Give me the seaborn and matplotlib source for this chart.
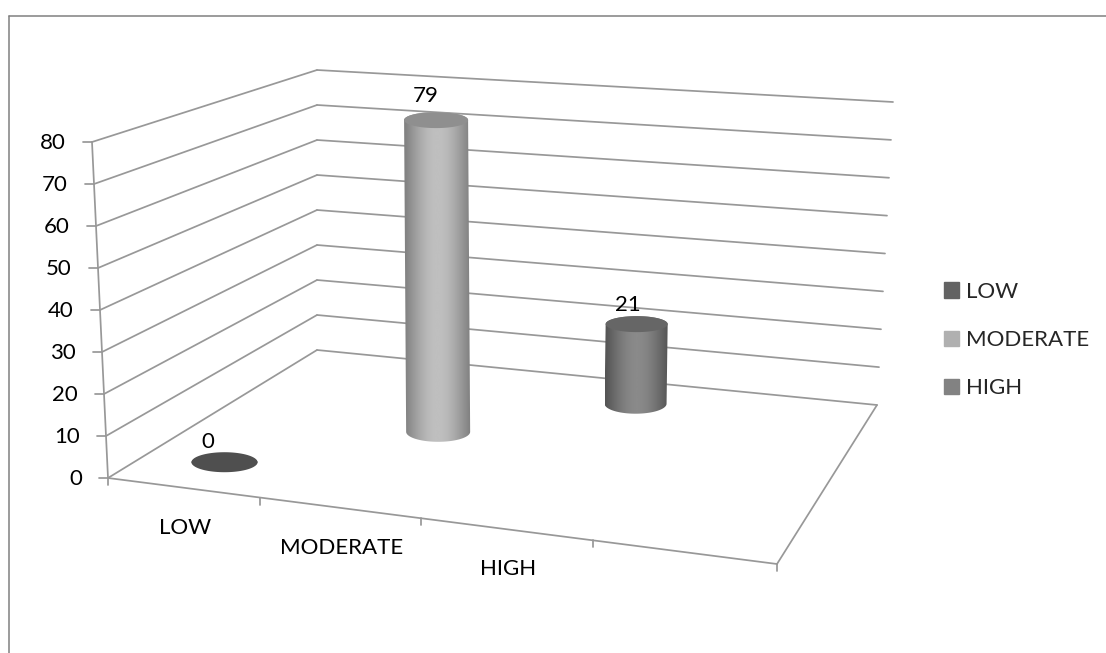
import numpy as np
import matplotlib
matplotlib.use('Agg')
import matplotlib.pyplot as plt
from matplotlib.patches import Patch
from matplotlib.path import Path
from matplotlib.patches import PathPatch
import seaborn as sns

categories = ['LOW', 'MODERATE', 'HIGH']
values = [0, 79, 21]
y_ticks = [0, 10, 20, 30, 40, 50, 60, 70, 80]
legend_colors = ['#636363', '#b0b0b0', '#828282']
edge_shades = [0.30, 0.50, 0.33]
mid_shades = [0.30, 0.75, 0.54]
cap_shades = [0.31, 0.56, 0.40]

sns.set_theme(style='white')
plt.rcParams['font.family'] = ['Lato', 'DejaVu Sans']

# chart box on screen, corners in pixels
floor_box = [(108, 478), (777, 564), (877, 405), (317, 350)]
top_box = [(92, 142), (810, 200), (893, 102), (317, 70)]
n_slots = 4
bar_shift = 0.005
label_offsets = [(-17, -20), (-10, -24), (-9, -19)]
line_col = '#989898'
font_size = 16


def homography(box):
    a, b, c, d = [np.array(p, float) for p in box]
    m = np.column_stack([b - c, d - c])
    g, h = np.linalg.solve(m, a - b + c - d)
    return np.array([[b[0] - a[0] + g * b[0], d[0] - a[0] + h * d[0], a[0]],
                     [b[1] - a[1] + g * b[1], d[1] - a[1] + h * d[1], a[1]],
                     [g, h, 1]])


H_floor = homography(floor_box)
H_top = homography(top_box)


def project(u, d, v):
    p = H_floor @ [u, d, 1]
    q = H_top @ [u, d, 1]
    p = p[:2] / p[2]
    q = q[:2] / q[2]
    return p + (q - p) * v / y_ticks[-1]


def seg(ax, a, b, lw=1.25, color=line_col):
    sns.lineplot(x=[a[0], b[0]], y=[a[1], b[1]], ax=ax, color=color,
                 linewidth=lw, sort=False, estimator=None, legend=False)


def cylinder(ax, top, bottom, rx, ry_top, ry_bot, edge, mid, cap):
    t = np.linspace(0, np.pi, 60)
    upper = np.column_stack([top[0] - rx * np.cos(t), top[1] - ry_top * np.sin(t)])
    lower = np.column_stack([bottom[0] + rx * np.cos(t), bottom[1] + ry_bot * np.sin(t)])
    body = np.vstack([upper, lower, upper[:1]])
    if abs(top[1] - bottom[1]) > 1:
        x0, x1 = min(top[0], bottom[0]) - rx, max(top[0], bottom[0]) + rx
        s = np.linspace(0, np.pi, 200)
        grad = edge + (mid - edge) * np.sin(s) ** 1.1
        im = ax.imshow(grad[None, :], cmap='gray', vmin=0, vmax=1, aspect='auto',
                       extent=(x0, x1, bottom[1] + ry_bot, top[1] - ry_top), zorder=3)
        im.set_clip_path(PathPatch(Path(body), transform=ax.transData))
    t2 = np.linspace(0, 2 * np.pi, 120)
    ax.fill(top[0] + rx * np.cos(t2), top[1] + ry_top * np.sin(t2),
            color=str(cap), lw=0, zorder=4)


fig = plt.figure(figsize=(11.06, 6.53), dpi=100)
ax = fig.add_axes([0, 0, 1, 1])

# outer frame, only left and top show in the crop
seg(ax, (8.5, 653), (8.5, 16), lw=1.1, color='#808080')
seg(ax, (8.5, 16), (1106, 16), lw=1.1, color='#808080')

# walls
for v in y_ticks:
    seg(ax, project(0, 0, v), project(0, 1, v))
    seg(ax, project(0, 1, v), project(1, 1, v))
    p = project(0, 0, v)
    seg(ax, p, (p[0] - 9, p[1]))
    ax.text(p[0] - 26, p[1] + 1, str(v), ha='right', va='center', fontsize=font_size, color='black')
seg(ax, project(0, 0, 0), project(0, 0, y_ticks[-1]))

# floor
seg(ax, project(0, 0, 0), project(1, 0, 0))
seg(ax, project(1, 0, 0), project(1, 1, 0))
for i in range(n_slots + 1):
    p = project(i / n_slots, 0, 0)
    seg(ax, p, (p[0], p[1] + 7))

# bars, one series per depth row
for i, (cat, val) in enumerate(zip(categories, values)):
    u = (i + 0.5) / n_slots + bar_shift
    d = (i + 0.5) / len(categories)
    base = project(u, d, 0)
    top = project(u, d, val)
    cylinder(ax, top, base, 33 - i, 8, 10, edge_shades[i], mid_shades[i], cap_shades[i])
    if val == 0:
        ax.fill(base[0] + 33 * np.cos(np.linspace(0, 6.3, 100)),
                base[1] + 10 * np.sin(np.linspace(0, 6.3, 100)),
                color=str(cap_shades[i]), lw=0, zorder=4)
    ax.text(top[0] + label_offsets[i][0], top[1] + label_offsets[i][1], str(val),
            ha='center', va='center', fontsize=font_size, color='black', zorder=5)
    f = project((i + 0.5) / n_slots, 0, 0)
    ax.text(f[0] + 2, f[1] + 40, cat, ha='center', va='center', fontsize=font_size, color='black')

handles = [Patch(color=c, label=n) for c, n in zip(legend_colors, categories)]
ax.legend(handles=handles, loc='center left', bbox_to_anchor=(944 / 1106, 1 - 340 / 653),
          frameon=False, fontsize=font_size, handlelength=0.67, handleheight=0.67,
          handletextpad=0.31, labelspacing=1.27, borderpad=0, borderaxespad=0)

ax.set_xlim(0, 1106)
ax.set_ylim(653, 0)
ax.axis('off')
fig.savefig('out.png', dpi=100, facecolor='white')
